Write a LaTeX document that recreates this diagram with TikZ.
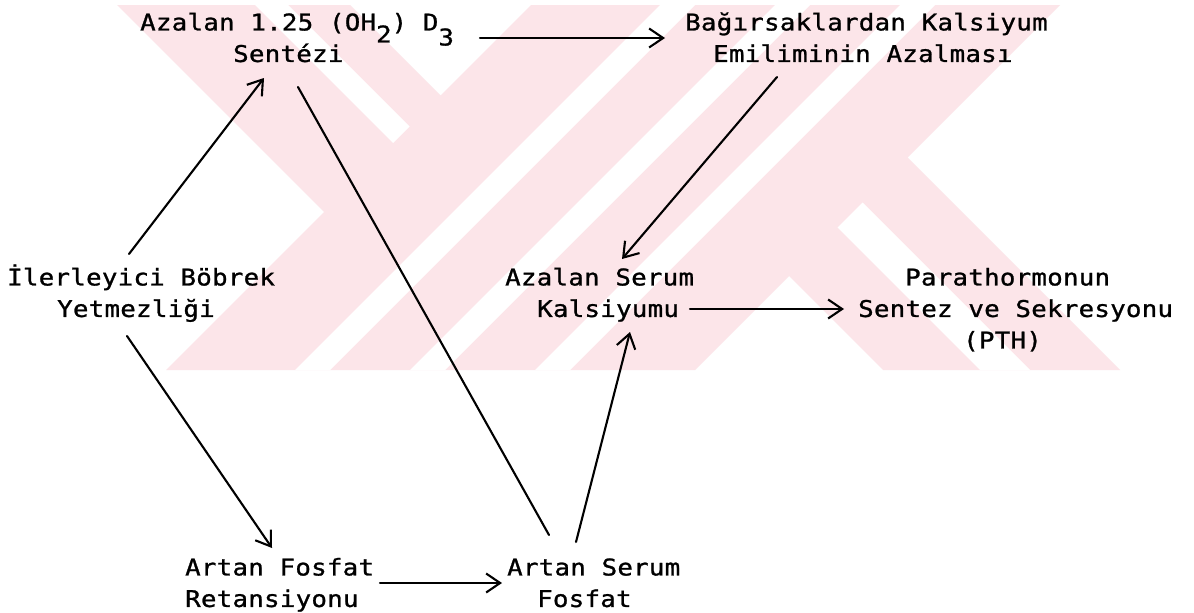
\documentclass[tikz,border=0pt]{standalone}
\usepackage{fontspec}
\newfontfamily\typew[FakeStretch=1.12,FakeBold=1.1,LetterSpace=1.2]{DejaVu Sans Mono}
\usetikzlibrary{arrows.meta}
\definecolor{wmpink}{RGB}{252,229,233}
% lowered "subscript" digits as a typewriter sets them
\newcommand\lowr[2]{\smash{\raisebox{-#1}{#2}}}
% fixed height of the first line of every label
\newcommand\fh{\rule{0pt}{22pt}}
\begin{document}
\begin{tikzpicture}[x=1pt,y=-1pt,
  txt/.style={inner sep=0pt,anchor=north west,align=left,
    font=\typew\fontsize{23pt}{31.5pt}\selectfont},
  link/.style={line width=2.1pt,line cap=round},
  arr/.style={link,-{Straight Barb[length=14pt,width=19pt]}}]
\useasboundingbox (0,0) rectangle (1194,613);
\fill[white] (0,0) rectangle (1194,613);

% background emblem
\fill[wmpink] (117,5) -- (350,5) -- (440.5,95.5) -- (531,5) -- (1060,5)
  -- (907.5,157.5) -- (1120,370) -- (883,370) -- (789,276) -- (695,370)
  -- (166,370) -- (324,212) -- cycle;
\fill[white] (255,5) -- (288,5) -- (409.5,126.5) -- (393,143) -- cycle;
\foreach \a/\b in {665/700,780/815,905/940}
  \fill[white] (\a-5,5) -- (\b-5,5) -- (\b-370,370) -- (\a-370,370) -- cycle;
\fill[white] (837.5,227.5) -- (862.5,202.5) -- (1030,370) -- (980,370) -- cycle;

% labels
\node[txt] (syn) at (140,8.25) {\fh Azalan 1.25 (OH\lowr{12pt}{2}) D\lowr{15pt}{3}\\\hspace*{93pt}Sentézi};
\node[txt] (abs) at (685,8.25) {\fh Bağırsaklardan Kalsiyum\\\hspace*{28pt}Emiliminin Azalması};
\node[txt] (ckd) at (7,263.25) {\fh İlerleyici Böbrek\\\hspace*{50pt}Yetmezliği};
\node[txt] (ca) at (505,263.25) {\fh Azalan Serum\\\hspace*{32pt}Kalsiyumu};
\node[txt] (pth) at (858,263.25) {\fh\hspace*{47pt}Parathormonun\\Sentez ve Sekresyonu\\\hspace*{105pt}(PTH)};
\node[txt] (ret) at (185,553.25) {\fh Artan Fosfat\\Retansiyonu};
\node[txt] (pho) at (507,553.25) {\fh Artan Serum\\\hspace*{30pt}Fosfat};

% connectors
\draw[arr] ([shift={(340,29.75)}]syn.north west) -- ([shift={(-20,29.75)}]abs.north west);
\draw[arr] ([shift={(92,68.75)}]abs.north west) -- ([shift={(117,-4.25)}]ca.north west);
\draw[arr] ([shift={(122,-9.25)}]ckd.north west) -- ([shift={(124,69.75)}]syn.north west);
\draw[arr] ([shift={(120,72.75)}]ckd.north west) -- ([shift={(87,-5.25)}]ret.north west);
\draw[arr] ([shift={(195,29.75)}]ret.north west) -- ([shift={(-5,29.75)}]pho.north west);
\draw[arr] ([shift={(69,-11.25)}]pho.north west) -- ([shift={(125,68.75)}]ca.north west);
\draw[link] ([shift={(42,-18.25)}]pho.north west) -- ([shift={(158,78.75)}]syn.north west);
\draw[arr] ([shift={(185,45.75)}]ca.north west) -- ([shift={(-14,45.75)}]pth.north west);
\end{tikzpicture}
\end{document}
